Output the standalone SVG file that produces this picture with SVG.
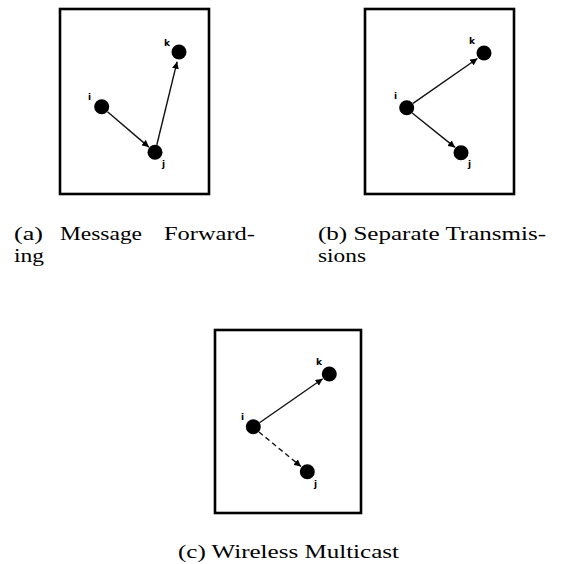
<svg xmlns="http://www.w3.org/2000/svg" width="570" height="564" viewBox="0 0 570 564">
<style>
.frame{fill:#fff;stroke:#000;stroke-width:2.6}
.node{fill:#000}
.edge{stroke:#111;stroke-width:1.4;fill:none}
.dash{stroke-dasharray:5 3.5}
.lbl{font-family:"DejaVu Sans",Arial,sans-serif;font-weight:bold;font-size:9px;fill:#000}
.cap{font-family:"Liberation Serif","Times New Roman",serif;font-size:19.5px;fill:#000}
</style>
<defs>
<marker id="ah" viewBox="0 0 10 10" refX="10" refY="5" markerWidth="7" markerHeight="7" markerUnits="userSpaceOnUse" orient="auto">
<path d="M0,0 L10,5 L0,10 z" fill="#000"/>
</marker>
</defs>
<rect class="frame" x="60" y="9" width="149" height="185"/>
<rect class="frame" x="365" y="9" width="149" height="185"/>
<rect class="frame" x="215" y="330" width="146" height="183"/>
<g id="connectors">
<line class="edge" x1="107.5" y1="111.7" x2="148.9" y2="147.1" marker-end="url(#ah)"/>
<line class="edge" x1="156.8" y1="145" x2="177.1" y2="61.7" marker-end="url(#ah)"/>
<line class="edge" x1="413" y1="103.4" x2="477.4" y2="58.5" marker-end="url(#ah)"/>
<line class="edge" x1="412.2" y1="113" x2="455" y2="147.4" marker-end="url(#ah)"/>
<line class="edge" x1="259.5" y1="422.7" x2="322.7" y2="378.8" marker-end="url(#ah)"/>
<line class="edge dash" x1="259" y1="432" x2="301" y2="466.5" marker-end="url(#ah)"/>
</g>
<g id="a-i"><circle class="node" cx="101.7" cy="106.7" r="7.5"/><text class="lbl" x="88" y="100">i</text></g>
<g id="a-j"><circle class="node" cx="155" cy="152.3" r="7.5"/><text class="lbl" x="162" y="167">j</text></g>
<g id="a-k"><circle class="node" cx="179" cy="52" r="7.5"/><text class="lbl" x="164" y="46">k</text></g>
<g id="b-i"><circle class="node" cx="406.7" cy="107.7" r="7.5"/><text class="lbl" x="394" y="99">i</text></g>
<g id="b-j"><circle class="node" cx="461" cy="152.7" r="7.5"/><text class="lbl" x="468" y="167">j</text></g>
<g id="b-k"><circle class="node" cx="484" cy="53" r="7.5"/><text class="lbl" x="469" y="44">k</text></g>
<g id="c-i"><circle class="node" cx="253.3" cy="426.7" r="7.5"/><text class="lbl" x="241" y="420">i</text></g>
<g id="c-j"><circle class="node" cx="307.3" cy="471.7" r="7.5"/><text class="lbl" x="314" y="487">j</text></g>
<g id="c-k"><circle class="node" cx="329.3" cy="374" r="7.5"/><text class="lbl" x="316" y="365">k</text></g>
<g id="captions">
<text class="cap" x="14" y="239.5" textLength="29" lengthAdjust="spacingAndGlyphs">(a)</text>
<text class="cap" x="60" y="239.5" textLength="82" lengthAdjust="spacingAndGlyphs">Message</text>
<text class="cap" x="164" y="239.5" textLength="91" lengthAdjust="spacingAndGlyphs">Forward-</text>
<text class="cap" x="14" y="261.5" textLength="30" lengthAdjust="spacingAndGlyphs">ing</text>
<text class="cap" x="318" y="239.5" textLength="228" lengthAdjust="spacingAndGlyphs">(b) Separate Transmis-</text>
<text class="cap" x="318" y="261.5" textLength="48" lengthAdjust="spacingAndGlyphs">sions</text>
<text class="cap" x="178" y="558" textLength="221" lengthAdjust="spacingAndGlyphs">(c) Wireless Multicast</text>
</g>
</svg>
